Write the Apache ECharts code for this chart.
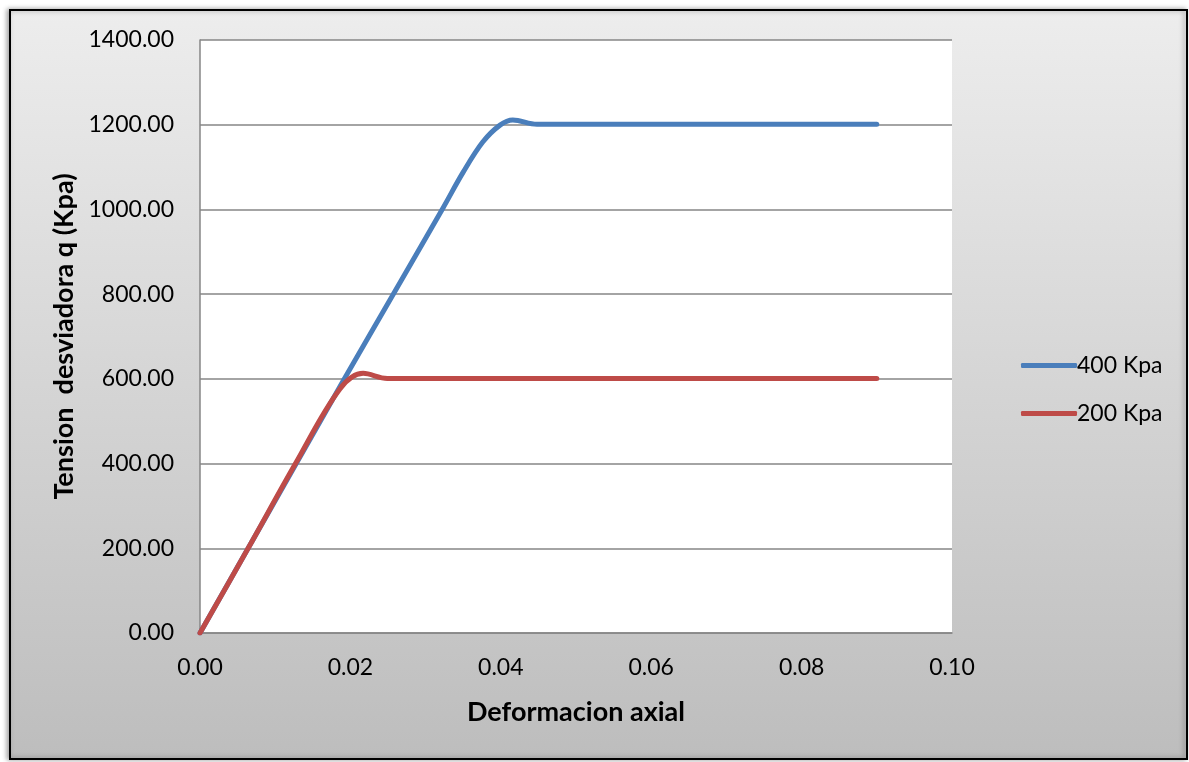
<!DOCTYPE html>
<html>
<head>
<meta charset="utf-8">
<script src="https://cdn.jsdelivr.net/npm/echarts@6/dist/echarts.min.js"></script>
<style>
html,body{margin:0;padding:0;background:#fff;}
#c{width:1189px;height:762px;}
</style>
</head>
<body>
<div id="c"></div>
<script>
// Data
const seriesNames = ['400 Kpa', '200 Kpa'];
const strain400 = [0, 0.0064, 0.0128, 0.0192, 0.0257, 0.0323, 0.035, 0.0376, 0.0399, 0.0416, 0.0448, 0.09];
const stress400 = [0, 200, 400, 600, 800, 1003, 1088, 1159, 1199, 1211, 1201, 1201];
const strain200 = [0, 0.0064, 0.0127, 0.0186, 0.0217, 0.0249, 0.09];
const stress200 = [0, 200, 400, 576, 613, 601, 601];
const xTicks = [0, 0.02, 0.04, 0.06, 0.08, 0.10];
const yTicks = [0, 200, 400, 600, 800, 1000, 1200, 1400];
const xTitle = 'Deformacion axial';
const yTitle = 'Tension  desviadora q (Kpa)';

const pairs = (xs, ys) => xs.map((x, i) => [x, ys[i]]);
const FONT = 'Lato, "Open Sans", sans-serif';

const chart = echarts.init(document.getElementById('c'), null, {renderer: 'canvas'});
chart.setOption({
  animation: false,
  backgroundColor: '#ffffff',
  graphic: [{
    type: 'rect',
    z: -10,
    silent: true,
    shape: {x: 10, y: 10, width: 1177, height: 749},
    style: {
      fill: {type: 'linear', x: 0, y: 0, x2: 0, y2: 1,
        colorStops: [{offset: 0, color: '#ededed'}, {offset: 1, color: '#bdbdbd'}]},
      stroke: '#000000',
      lineWidth: 2,
      shadowColor: 'rgba(0,0,0,0.35)',
      shadowBlur: 5,
      shadowOffsetX: -2,
      shadowOffsetY: 0
    }
  }],
  grid: {
    left: 200, right: 237, top: 40, bottom: 129,
    show: true, backgroundColor: '#ffffff', borderWidth: 0
  },
  legend: {
    orient: 'vertical',
    left: 1016, top: 349,
    itemWidth: 56, itemHeight: 5, itemGap: 25,
    icon: 'roundRect',
    textStyle: {fontFamily: FONT, fontSize: 23, color: '#000', padding: [0, 0, 0, -5]},
    data: seriesNames
  },
  xAxis: {
    type: 'value', min: 0, max: 0.1, interval: 0.02,
    name: xTitle, nameLocation: 'middle', nameGap: 66,
    nameTextStyle: {fontFamily: FONT, fontSize: 27, fontWeight: 'bold', color: '#000'},
    axisLine: {show: true, lineStyle: {color: '#868686', width: 1.5}},
    axisTick: {show: false},
    splitLine: {show: false},
    axisLabel: {fontFamily: FONT, fontSize: 23, color: '#000', margin: 23,
      formatter: v => v.toFixed(2)}
  },
  yAxis: {
    type: 'value', min: 0, max: 1400, interval: 200,
    name: yTitle, nameLocation: 'middle', nameGap: 122, nameRotate: 90,
    nameTextStyle: {fontFamily: FONT, fontSize: 27, fontWeight: 'bold', color: '#000'},
    axisLine: {show: true, lineStyle: {color: '#868686', width: 1.5}},
    axisTick: {show: false},
    splitLine: {show: true, lineStyle: {color: '#868686', width: 1.5}},
    axisLabel: {fontFamily: FONT, fontSize: 23, color: '#000', margin: 26,
      formatter: v => v.toFixed(2)}
  },
  series: [
    {
      name: seriesNames[0], type: 'line', smooth: 0.35, showSymbol: false,
      data: pairs(strain400, stress400),
      lineStyle: {color: '#4a7ebb', width: 5, cap: 'round', join: 'round'},
      itemStyle: {color: '#4a7ebb'}
    },
    {
      name: seriesNames[1], type: 'line', smooth: 0.35, showSymbol: false,
      data: pairs(strain200, stress200),
      lineStyle: {color: '#be4b48', width: 5, cap: 'round', join: 'round'},
      itemStyle: {color: '#be4b48'}
    }
  ]
});
</script>
</body>
</html>
